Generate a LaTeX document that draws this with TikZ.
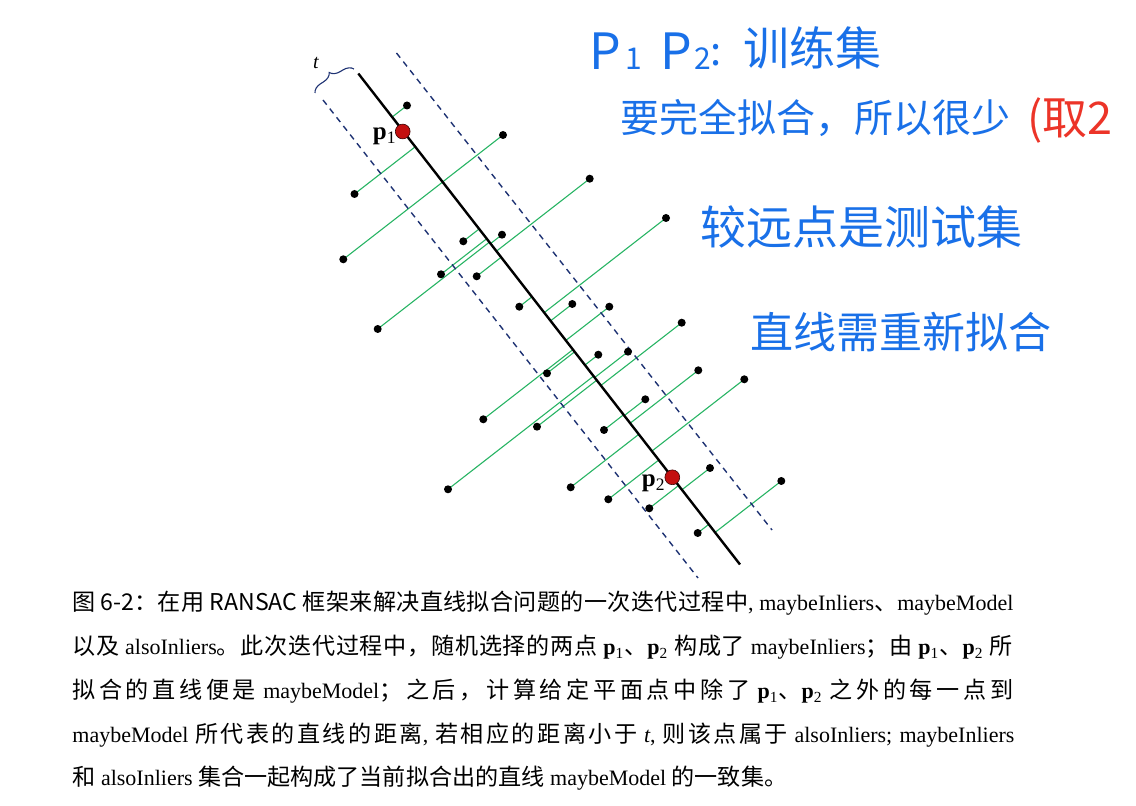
\documentclass[tikz,border=0pt]{standalone}
\usepackage{fontspec}
\setmainfont{Liberation Serif}
\newfontfamily\cjk[Scale=1.05]{Noto Sans CJK SC}
\newfontfamily\hand{Noto Sans CJK SC}
\usetikzlibrary{calc,decorations.pathreplacing}
\definecolor{dotgreen}{RGB}{40,180,100}
\definecolor{navyd}{RGB}{30,50,115}
\definecolor{handblue}{RGB}{25,112,232}
\definecolor{handred}{RGB}{236,52,40}
\definecolor{dotred}{RGB}{195,15,15}
\newcount\cjkcc
\cjkcc="4E00
\loop \XeTeXcharclass\cjkcc=1 \advance\cjkcc by 1 \ifnum\cjkcc<"A000 \repeat
\XeTeXcharclass"3001=3 \XeTeXcharclass"3002=3 \XeTeXcharclass"FF0C=3
\XeTeXcharclass"FF1A=3 \XeTeXcharclass"FF1B=3
\XeTeXinterchartoks 1 1 = {\hskip 0pt plus 3pt\relax}
\XeTeXinterchartoks 1 3 = {\hskip 0pt plus 3pt\relax}
\XeTeXinterchartoks 3 1 = {\hskip 0pt plus 3pt\relax}
\newcommand\ptn[1]{\textbf{p}\textsubscript{#1}}
\pgfdeclarelayer{bg}
\pgfsetlayers{bg,main}
\tikzset{
  blackdot/.style={circle,fill=black,inner sep=0pt,minimum size=4pt},
  reddot/.style={circle,fill=dotred,draw=black!70!dotred,line width=0.3pt,inner sep=0pt,minimum size=7.4pt},
  greenline/.style={dotgreen,line width=0.55pt},
  mainline/.style={black,line width=1.2pt},
  dashline/.style={navyd,line width=0.7pt,dash pattern=on 3pt off 2.5pt},
  bracestyle/.style={navyd,line width=0.55pt,decorate,decoration={brace,amplitude=5pt}},
  capline/.style={anchor=base west,inner sep=0pt,font=\fontsize{11}{13}\selectfont},
  handtext/.style={anchor=base west,inner sep=0pt,text=handblue},
  ptlabel/.style={anchor=base east,inner sep=0pt,font=\fontsize{12.5}{12.5}\selectfont}
}
\begin{document}
\XeTeXinterchartokenstate=1
\begin{tikzpicture}[x=0.5pt,y=-0.5pt]
\path[use as bounding box] (0,0) rectangle (1136,806);
\coordinate (mA) at (358.3,73.5);
\coordinate (mB) at (740,564.5);
\coordinate (lA) at (323,100);
\coordinate (lB) at (698,578);
\coordinate (rA) at (396.5,53);
\coordinate (rB) at (772,530);
\coordinate (bL) at (315,93);
\coordinate (bR) at (354,69);

\foreach \n/\x/\y in {1/407/105.5, 2/503/135, 3/354.5/194, 4/589.7/178.7, 5/666/218,
  6/463.3/241.3, 7/502/234.7, 8/343.3/259.3, 9/441/274.3, 10/476.7/276.3,
  11/519.3/306.7, 12/572.3/304, 13/609.3/306.7, 14/377.7/329, 15/681.7/322.7,
  16/598.3/354.7, 17/628/351.7, 18/547/373.3, 19/698.3/370.3, 20/744.3/379.3,
  21/645.3/399.3, 22/483.3/419.3, 23/537/426.7, 24/604/430, 25/710/468,
  26/448/489.3, 27/570.7/487.3, 28/608.3/499.3, 29/649.3/508.3, 30/781.3/481,
  31/697.7/533} {
  \node[blackdot] (q\n) at (\x,\y) {};
  \coordinate (f\n) at ($(mA)!(q\n)!(mB)$);
  \begin{pgfonlayer}{bg}
    \draw[greenline] (q\n.center) -- (f\n);
  \end{pgfonlayer}
}
\begin{pgfonlayer}{bg}
\draw[dashline] (lA) -- (lB);
\draw[dashline] (rA) -- (rB);
\draw[mainline] (mA) -- (mB);
\end{pgfonlayer}
\node[reddot] (p1) at (402.7,131.5) {};
\node[reddot] (p2) at (672.3,477.3) {};
\node[ptlabel] (p1l) at (397,140) {\ptn{1}};
\node[ptlabel] (p2l) at (666,487) {\ptn{2}};
\draw[bracestyle] (bL) -- (bR);
\node[anchor=base,inner sep=0pt,font=\fontsize{10}{10}\selectfont\itshape] (tl) at (316,69) {t};

% handwritten notes
\node[handtext,font=\hand\fontsize{25}{25}\selectfont] (a0) at (589,70) {P\hspace{2pt}{\fontsize{15}{15}\selectfont 1}};
\node[handtext,font=\hand\fontsize{25}{25}\selectfont] (a0b) at (660,70) {P\hspace{1pt}{\fontsize{15}{15}\selectfont 2}};
\node[handtext,font=\hand\fontsize{20}{20}\selectfont] (a0c) at (710,66) {:};
\node[handtext,font=\hand\fontsize{23}{23}\selectfont] (a1) at (743,66) {训练集};
\node[handtext,font=\hand\fontsize{19.5}{20}\selectfont] (a2) at (620,133) {要完全拟合，所以很少};
\node[handtext,text=handred,font=\hand\fontsize{22.5}{23}\selectfont] (a2r) at (1027,135) {(取2};
\node[handtext,font=\hand\fontsize{23}{23}\selectfont] (a3) at (700,245) {较远点是测试集};
\node[handtext,font=\hand\fontsize{21.5}{22}\selectfont] (a4) at (750,349) {直线需重新拟合};

% caption
\node[capline] (c1) at (72,611) {\hbox to 470.5pt{{\cjk 图 6-2：在用 RANSAC 框架来解决直线拟合问题的一次迭代过程中}, maybeInliers{\cjk 、}maybeModel}};
\node[capline] (c2) at (72,655) {\hbox to 470pt{{\cjk 以及} alsoInliers{\cjk 。此次迭代过程中，随机选择的两点} \ptn{1}{\cjk 、}\ptn{2} {\cjk 构成了} maybeInliers{\cjk ；由} \ptn{1}{\cjk 、}\ptn{2} {\cjk 所}}};
\node[capline] (c3) at (72,699) {\hbox to 470.5pt{{\cjk 拟合的直线便是} maybeModel{\cjk ；之后，计算给定平面点中除了} \ptn{1}{\cjk 、}\ptn{2} {\cjk 之外的每一点到}}};
\node[capline] (c4) at (72,743) {\hbox to 471pt{maybeModel {\cjk 所代表的直线的距离}, {\cjk 若相应的距离小于} \textit{t}, {\cjk 则该点属于} alsoInliers; maybeInliers}};
\node[capline] (c5) at (72,786) {{\cjk 和} alsoInliers {\cjk 集合一起构成了当前拟合出的直线} maybeModel {\cjk 的一致集。}};
\end{tikzpicture}
\end{document}
